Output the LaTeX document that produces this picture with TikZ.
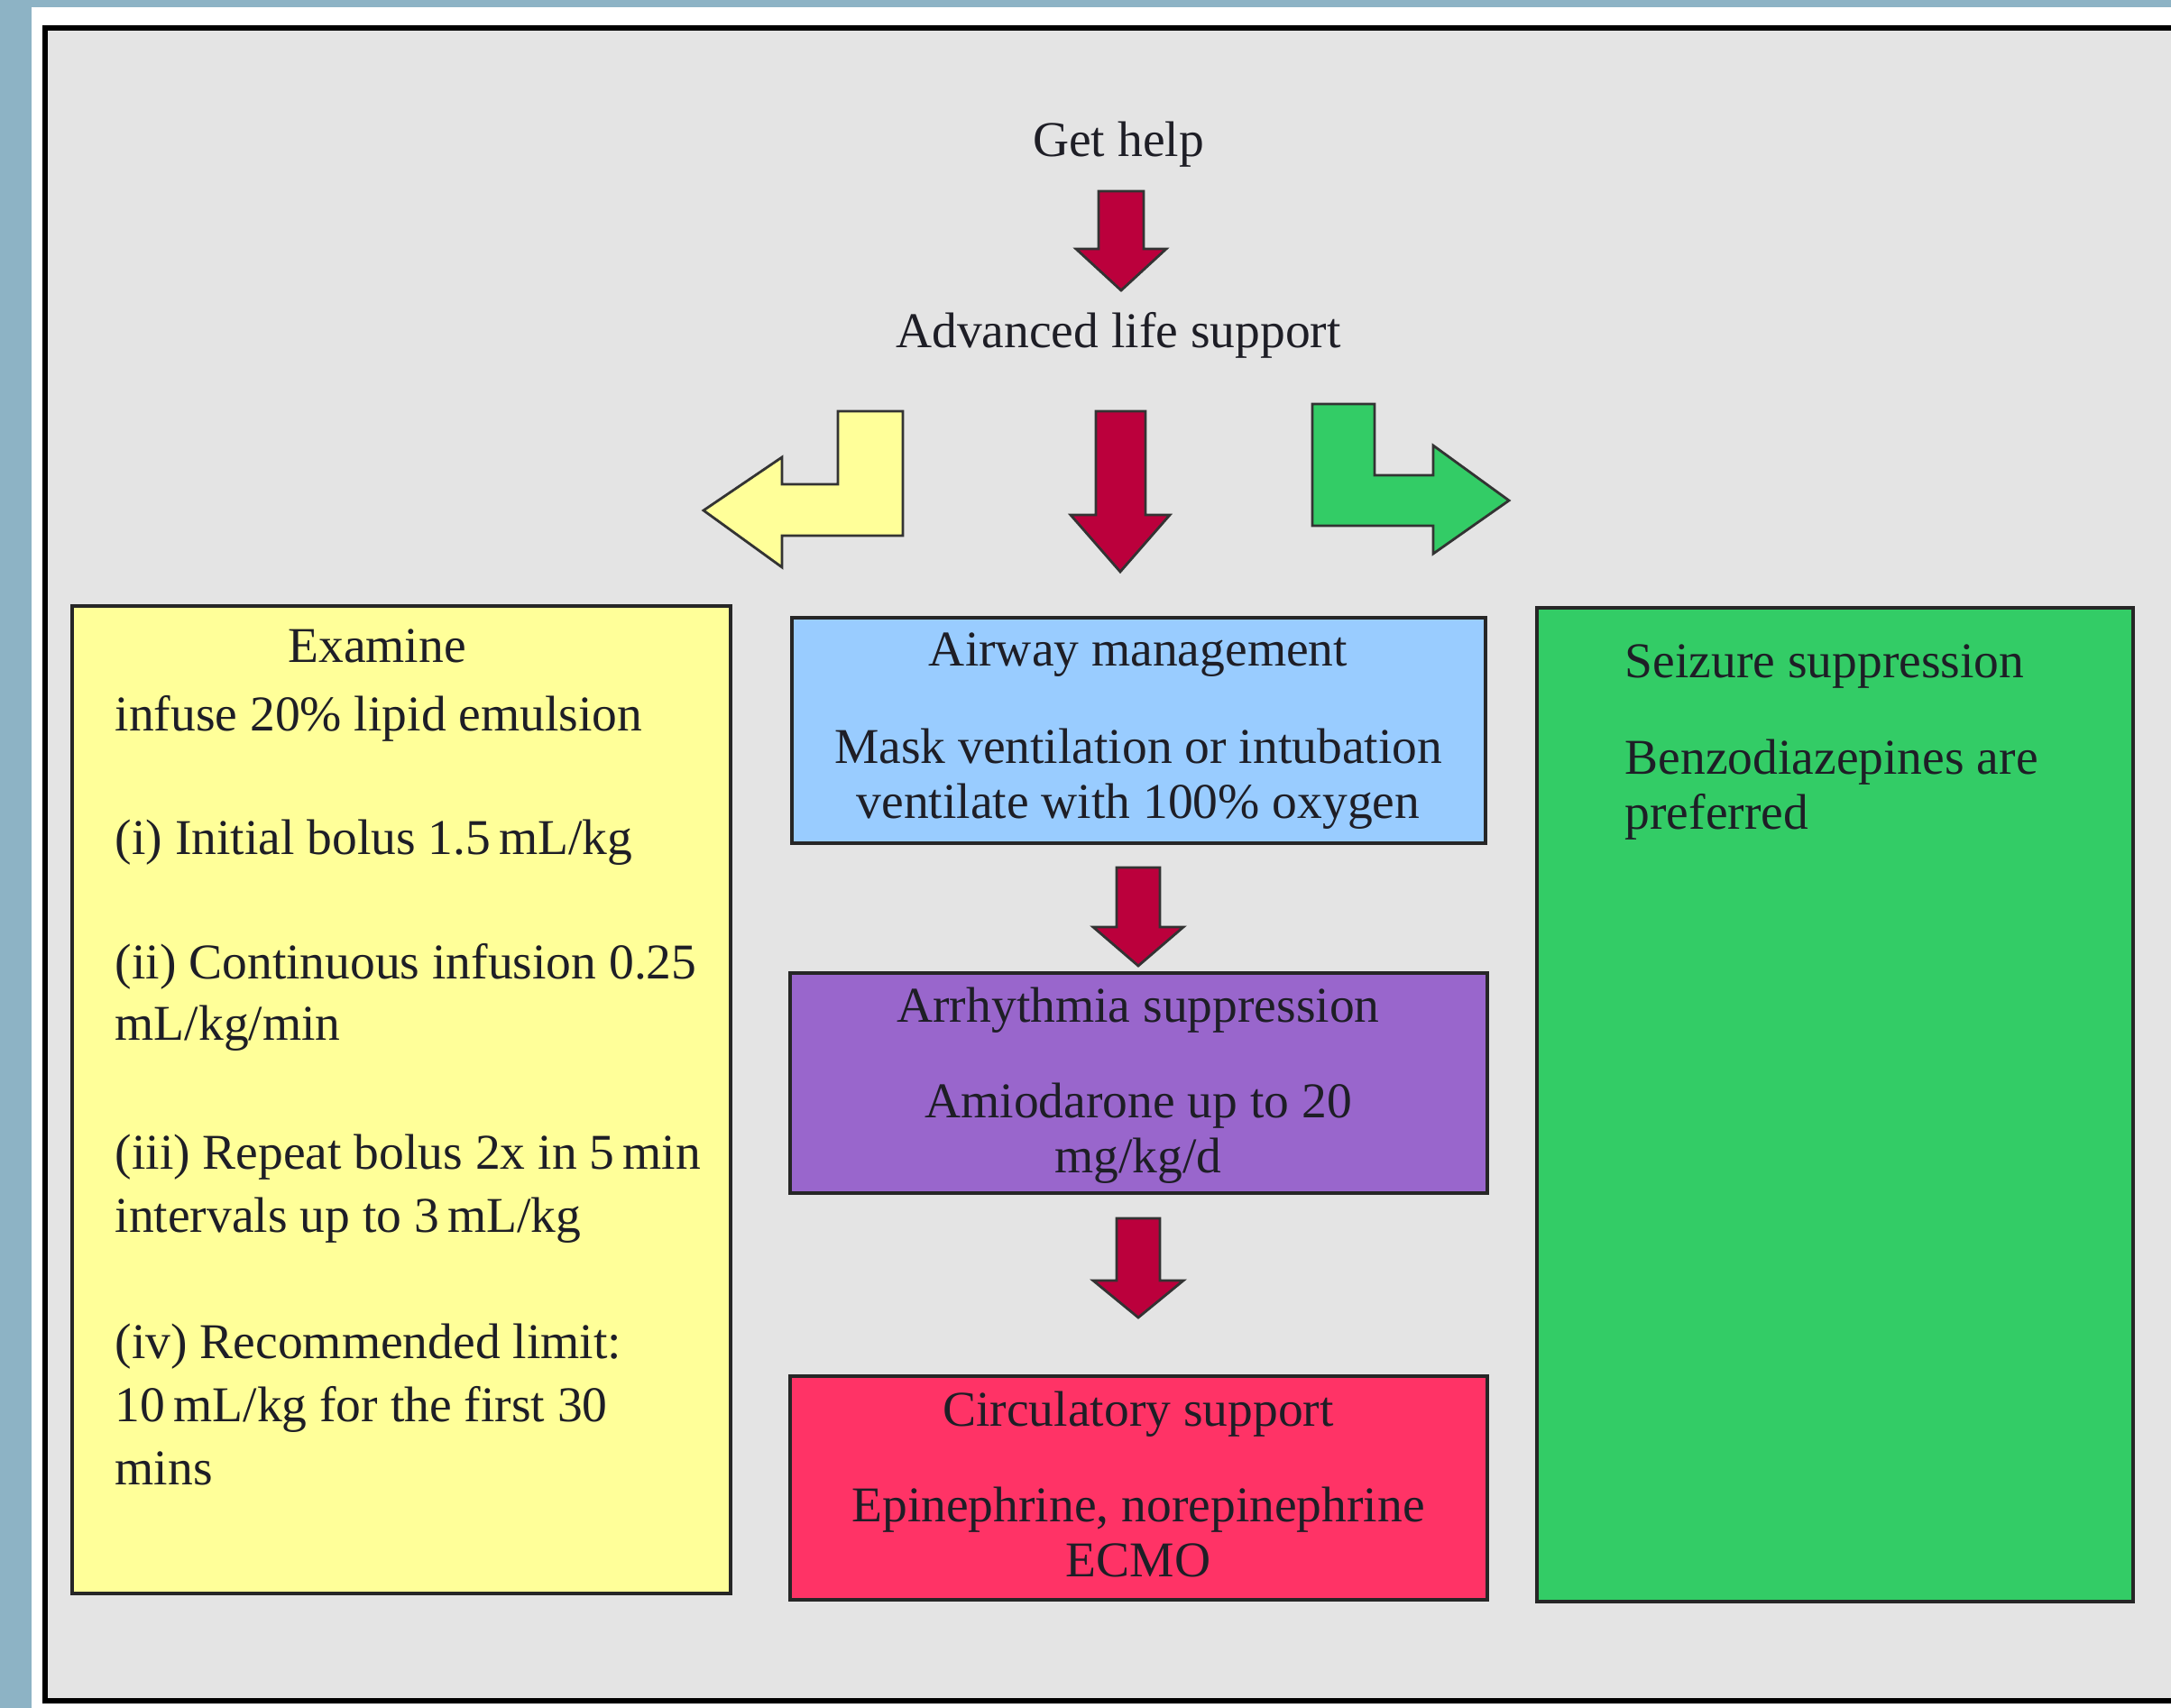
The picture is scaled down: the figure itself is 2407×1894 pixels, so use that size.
\documentclass[tikz,border=0pt]{standalone}
\usepackage{fontspec}
\setmainfont{Liberation Serif}
\definecolor{strip}{HTML}{8DB3C5}
\definecolor{panel}{HTML}{E4E4E4}
\definecolor{yel}{HTML}{FFFF99}
\definecolor{sky}{HTML}{99CCFF}
\definecolor{purp}{HTML}{9966CC}
\definecolor{rose}{HTML}{FF3366}
\definecolor{grn}{HTML}{33CC66}
\definecolor{crim}{HTML}{BB003C}
\definecolor{ink}{HTML}{1E1E26}
\begin{document}
\begin{tikzpicture}[x=0.1mm,y=-0.1mm,
 box/.style={draw=black!85, line width=1.1pt, inner sep=0, outer sep=0},
 txt/.style={inner sep=0, anchor=base, text=ink, font=\fontsize{15.8}{19}\selectfont},
 ltxt/.style={txt, anchor=base west},
 blockarrow/.style={draw=black!80, line width=0.8pt, line join=miter}]
\useasboundingbox (0,0) rectangle (2407,1894);
\clip (0,0) rectangle (2407,1894);
\fill[strip] (0,0) rectangle (2407,1894);
\fill[white] (35,8) rectangle (2407,1894);
\fill[panel] (50,31) rectangle (2420,1886);
\draw[line width=1.6pt] (2420,31) -- (50,31) -- (50,1886) -- (2420,1886);

% boxes
\node[box, fill=yel, minimum width=73mm, minimum height=109.5mm] (yb) at (445,1219.5) {};
\node[box, fill=sky, minimum width=76.9mm, minimum height=25mm] (bb) at (1262.5,810) {};
\node[box, fill=purp, minimum width=77.3mm, minimum height=24.4mm] (pb) at (1262.5,1201) {};
\node[box, fill=rose, minimum width=77.3mm, minimum height=24.8mm] (rb) at (1262.5,1650) {};
\node[box, fill=grn, minimum width=66.1mm, minimum height=110.2mm] (gb) at (2034.5,1225) {};

% top texts
\node[txt] (help) at (1240,173) {Get help};
\node[txt] (als) at (1240,385) {Advanced life support};

% block arrows
\draw[blockarrow, fill=crim] (1218,212) -- (1268,212) -- (1268,276) -- (1293,276) -- (1243,322) -- (1193,276) -- (1218,276) -- cycle;
\draw[blockarrow, fill=crim] (1215,456) -- (1270,456) -- (1270,571) -- (1297,571) -- (1242,634) -- (1187,571) -- (1215,571) -- cycle;
\draw[blockarrow, fill=yel] (929,456) -- (1001,456) -- (1001,594) -- (867,594) -- (867,629) -- (780,566) -- (867,507) -- (867,537) -- (929,537) -- cycle;
\draw[blockarrow, fill=grn] (1455,448) -- (1524,448) -- (1524,527) -- (1589,527) -- (1589,494) -- (1673,555) -- (1589,614) -- (1589,583) -- (1455,583) -- cycle;
\draw[blockarrow, fill=crim] (1238,962) -- (1286,962) -- (1286,1028) -- (1312,1028) -- (1262,1071) -- (1212,1028) -- (1238,1028) -- cycle;
\draw[blockarrow, fill=crim] (1238,1351) -- (1286,1351) -- (1286,1420) -- (1312,1420) -- (1262,1461) -- (1212,1420) -- (1238,1420) -- cycle;

% yellow box text
\node[txt] (y0) at (418,734) {Examine};
\node[ltxt] (y1) at (127,810) {infuse 20\% lipid emulsion};
\node[ltxt] (y2) at (127,947) {(i) Initial bolus 1.5\,mL/kg};
\node[ltxt] (y3) at (127,1085) {(ii) Continuous infusion 0.25};
\node[ltxt] (y4) at (127,1153) {mL/kg/min};
\node[ltxt] (y5) at (127,1296) {(iii) Repeat bolus 2x in 5\,min};
\node[ltxt] (y6) at (127,1366) {intervals up to 3\,mL/kg};
\node[ltxt] (y7) at (127,1506) {(iv) Recommended limit:};
\node[ltxt] (y8) at (127,1576) {10\,mL/kg for the first 30};
\node[ltxt] (y9) at (127,1646) {mins};

% blue box text
\node[txt] (b1) at (1262,738) {Airway management};
\node[txt] (b2) at (1262,846) {Mask ventilation or intubation};
\node[txt] (b3) at (1262,907) {ventilate with 100\% oxygen};

% purple box text
\node[txt] (p1) at (1262,1133) {Arrhythmia suppression};
\node[txt] (p2) at (1262,1239) {Amiodarone up to 20};
\node[txt] (p3) at (1262,1300) {mg/kg/d};

% red box text
\node[txt] (r1) at (1262,1581) {Circulatory support};
\node[txt] (r2) at (1262,1687) {Epinephrine, norepinephrine};
\node[txt] (r3) at (1262,1748) {ECMO};

% green box text
\node[ltxt] (g1) at (1801,751) {Seizure suppression};
\node[ltxt] (g2) at (1801,858) {Benzodiazepines are};
\node[ltxt] (g3) at (1801,919) {preferred};
\end{tikzpicture}
\end{document}
